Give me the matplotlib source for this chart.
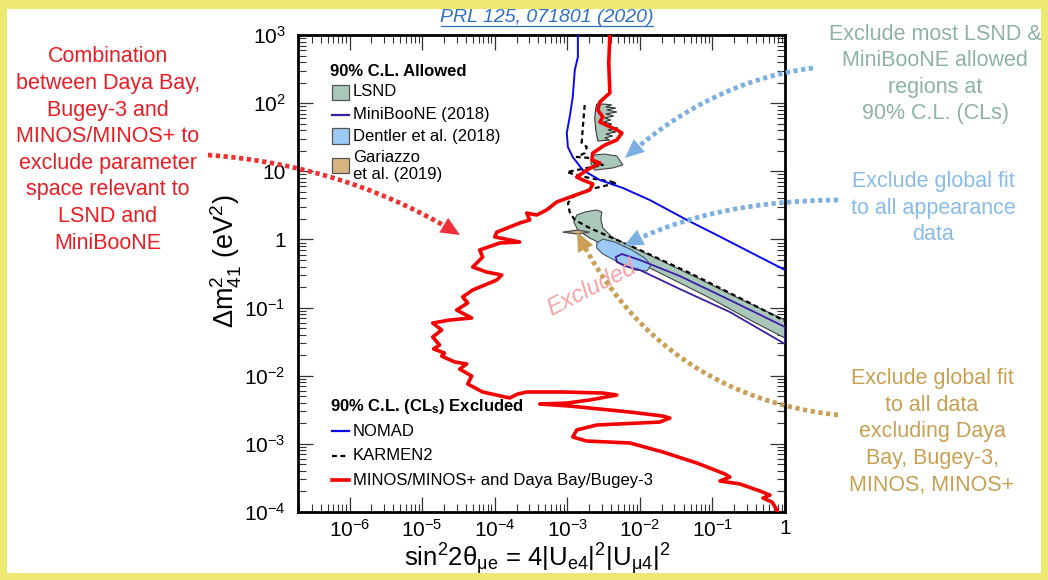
import numpy as np
import matplotlib
matplotlib.use("Agg")
import matplotlib.pyplot as plt
from matplotlib.patches import Rectangle, Polygon
from matplotlib.lines import Line2D
from matplotlib.ticker import FixedLocator, FixedFormatter, LogLocator, NullFormatter

plt.rcParams['font.family'] = ['Liberation Sans', 'DejaVu Sans']
plt.rcParams['mathtext.fontset'] = 'custom'
plt.rcParams['mathtext.rm'] = 'Liberation Sans'
plt.rcParams['mathtext.it'] = 'Liberation Sans:italic'
plt.rcParams['mathtext.bf'] = 'Liberation Sans:bold'
plt.rcParams['mathtext.sf'] = 'Liberation Sans'

# ---------------------------------------------------------------------------
# 90% CLs exclusion: MINOS/MINOS+ combined with Daya Bay/Bugey-3
minos_s2 = [3.86e-3, 3.73e-3, 3.86e-3, 2.81e-3, 2.64e-3, 3.09e-3, 2.81e-3, 4.82e-3,
            5.65e-3, 4.82e-3, 3.29e-3, 2.25e-3, 2.18e-3, 2.81e-3, 1.86e-3, 1.35e-3,
            1.64e-3, 2.25e-3, 2.04e-3, 1.19e-3, 7.16e-4, 5.21e-4, 3.79e-4, 2.76e-4,
            3.04e-4, 2.21e-4, 1.07e-4, 1.0e-4, 2.21e-4, 1.17e-4, 6.21e-5, 6.83e-5,
            4.97e-5, 7.76e-5, 1.25e-4, 1.07e-4, 4.97e-5, 3.62e-5, 4.25e-5, 2.99e-5,
            4.82e-5, 2.39e-5, 1.40e-5, 1.86e-5, 1.40e-5, 1.74e-5,
            1.44e-5, 2.04e-5, 1.86e-5, 2.81e-5, 4.11e-5, 3.29e-5, 4.82e-5, 4.25e-5,
            6.83e-5, 1.61e-4, 2.08e-4, 2.76e-4, 8.67e-4, 3.09e-3, 4.82e-3, 2.04e-3,
            9.85e-4, 4.18e-4, 1.08e-3, 7.28e-3, 2.08e-2, 2.59e-2, 1.89e-2, 2.55e-3,
            1.35e-3, 1.19e-3, 1.86e-3, 7.28e-3, 2.08e-2, 6.11e-2, 0.149, 0.174,
            0.127, 0.239, 0.452, 0.621, 0.497, 0.662, 0.776, 0.80]
minos_dm2 = [1000, 388, 141, 104, 79, 62.7, 52.9, 40.4,
             36.5, 28.8, 24.3, 18.5, 14.7, 13.2, 10.4, 8.24,
             7.45, 6.50, 5.31, 4.33, 3.54, 2.71, 2.28, 2.44,
             1.93, 1.74, 1.28, 1.09, 0.916, 0.885, 0.700, 0.552,
             0.394, 0.332, 0.301, 0.254, 0.181, 0.143, 0.117, 0.092,
             0.0703, 0.0657, 0.0593, 0.0469, 0.0370, 0.0282,
             0.0247, 0.0215, 0.0194, 0.0159, 0.0149, 0.0125, 0.0099, 0.00756,
             0.00577, 0.00471, 0.00539, 0.00577, 0.00577, 0.00557, 0.00521, 0.00440,
             0.00397, 0.00384, 0.00359, 0.00293, 0.00256, 0.00239, 0.00209, 0.00189,
             0.00160, 0.00126, 0.00110, 0.00103, 7.59e-4, 5.23e-4, 3.61e-4, 3.26e-4,
             2.85e-4, 2.58e-4, 2.03e-4, 1.77e-4, 1.60e-4, 1.40e-4, 1.07e-4, 8.9e-5]

# NOMAD exclusion
nomad_s2 = [1.40e-3, 1.40e-3, 1.27e-3, 1.19e-3, 1.08e-3, 9.85e-4, 1.02e-3, 1.19e-3,
            1.64e-3, 2.81e-3, 5.83e-3, 1.37e-2, 4.45e-2, 0.115, 0.329, 1.0]
nomad_dm2 = [1000, 475, 306, 123, 62.7, 36.5, 22.7, 16.2,
             10.4, 7.45, 5.69, 3.79, 1.93, 1.16, 0.653, 0.356]

# KARMEN2 exclusion
karmen_s2 = [1.74e-3, 1.64e-3, 1.58e-3, 1.86e-3, 1.74e-3, 1.35e-3, 2.04e-3, 2.39e-3,
             3.09e-3, 9.85e-4, 1.35e-3, 2.04e-3, 4.24e-3, 4.82e-3, 2.81e-3, 1.86e-3,
             1.19e-3, 1.02e-3, 1.08e-3, 1.27e-3, 2.04e-3, 3.86e-3, 1.0e-2, 4.90e-2,
             0.239, 1.0]
karmen_dm2 = [94.0, 44.7, 26.0, 22.7, 18.5, 16.2, 15.7, 13.2,
              12.4, 9.75, 8.81, 7.96, 6.96, 6.73, 5.88, 5.31,
              4.19, 3.42, 2.52, 1.93, 1.47, 1.09, 0.700, 0.321,
              0.138, 0.0635]

# LSND allowed regions (three islands)
lsnd_hi_s2 = [2.64e-3, 2.47e-3, 2.39e-3, 2.47e-3, 2.55e-3, 3.19e-3, 4.11e-3, 3.40e-3,
              4.67e-3, 3.51e-3, 4.82e-3, 3.40e-3, 4.38e-3, 3.29e-3, 3.98e-3, 3.19e-3,
              4.11e-3, 3.40e-3, 4.97e-3, 3.62e-3, 4.67e-3, 3.40e-3, 4.24e-3, 3.29e-3,
              3.86e-3]
lsnd_hi_dm2 = [27.8, 40.4, 60.5, 84.9, 97.0, 97.0, 94.0, 87.8,
               84.9, 79.3, 74.1, 69.3, 64.8, 60.5, 56.6, 52.9,
               49.4, 46.2, 43.2, 40.4, 37.7, 35.2, 33.0, 30.8,
               28.8]
lsnd_mid_s2 = [2.25e-3, 3.29e-3, 4.82e-3, 5.83e-3, 4.24e-3, 2.39e-3, 2.11e-3]
lsnd_mid_dm2 = [17.3, 17.9, 16.7, 12.4, 11.2, 10.4, 13.2]
lsnd_lo_s2 = [1.23e-3, 1.35e-3, 1.74e-3, 2.55e-3, 2.99e-3, 2.90e-3, 3.09e-3, 4.11e-3,
              7.28e-3, 1.89e-2, 6.72e-2, 0.239, 1.0, 1.0, 0.329, 0.0924,
              2.59e-2, 1.0e-2, 3.86e-3, 2.04e-3, 1.40e-3]
lsnd_lo_dm2 = [1.80, 2.28, 2.52, 2.71, 2.52, 2.00, 1.47, 1.09,
               0.800, 0.499, 0.262, 0.134, 0.0657, 0.0357, 0.0657, 0.138,
               0.272, 0.451, 0.748, 1.05, 1.37]

# Dentler et al. (2018) global appearance fit
dentler_s2 = [2.55e-3, 3.09e-3, 4.52e-3, 7.76e-3, 1.17e-2, 1.42e-2, 1.25e-2, 8.53e-3,
              4.97e-3, 3.09e-3, 2.55e-3]
dentler_dm2 = [0.885, 1.01, 0.916, 0.700, 0.533, 0.421, 0.344, 0.356,
               0.467, 0.611, 0.748]

# MiniBooNE (2018) allowed contour
mb_s2 = [4.67e-3, 5.65e-3, 1.0e-2, 3.56e-2, 0.174, 1.0, 1.0, 0.174, 3.56e-2, 1.0e-2,
         6.21e-3, 4.82e-3]
mb_dm2 = [0.552, 0.611, 0.499, 0.290, 0.129, 0.0519, 0.0292, 0.0861, 0.187, 0.356,
          0.407, 0.467]

# Gariazzo et al. (2019) global fit
gar_s2 = [8.67e-4, 1.40e-3, 2.04e-3, 1.40e-3]
gar_dm2 = [1.28, 1.37, 1.28, 1.20]

x_ticks = [1e-6, 1e-5, 1e-4, 1e-3, 1e-2, 1e-1, 1]
x_ticklabels = [r'$10^{-6}$', r'$10^{-5}$', r'$10^{-4}$', r'$10^{-3}$',
                r'$10^{-2}$', r'$10^{-1}$', '1']
y_ticks = [1e-4, 1e-3, 1e-2, 1e-1, 1, 10, 100, 1000]
y_ticklabels = [r'$10^{-4}$', r'$10^{-3}$', r'$10^{-2}$', r'$10^{-1}$', '1', '10',
                r'$10^{2}$', r'$10^{3}$']

# colours
C_RED = '#f40000'
C_NOMAD = '#0a0af0'
C_MB = '#3c1ea6'
C_LSND = '#a9c8ba'
C_DENT = '#9ccaf6'
C_GAR = '#d9b483'

# ---------------------------------------------------------------------------
W, H = 1048, 580
fig = plt.figure(figsize=(W / 100, H / 100), dpi=100)
fig.patch.set_facecolor('#ede872')


def fp(px, py):
    """pixel position on the canvas -> figure fraction"""
    return np.asarray(px, float) / W, 1 - np.asarray(py, float) / H


x0, y0 = fp(7, 573)
x1, y1 = fp(1041, 9)
fig.add_artist(Rectangle((x0, y0), x1 - x0, y1 - y0, transform=fig.transFigure,
                         facecolor='white', edgecolor='none', zorder=-5))

AX_L, AX_R, AX_T, AX_B = 298, 785, 35, 512
ax = fig.add_axes([AX_L / W, 1 - AX_B / H, (AX_R - AX_L) / W, (AX_B - AX_T) / H])
ax.set_xscale('log')
ax.set_yscale('log')
ax.set_xlim(1.95e-7, 1)
ax.set_ylim(1e-4, 1e3)

# allowed regions
ax.fill(lsnd_hi_s2, lsnd_hi_dm2, facecolor=C_LSND, edgecolor='#333333', lw=0.8, zorder=2)
ax.fill(lsnd_mid_s2, lsnd_mid_dm2, facecolor=C_LSND, edgecolor='#444444', lw=0.8, zorder=2)
ax.fill(lsnd_lo_s2, lsnd_lo_dm2, facecolor=C_LSND, edgecolor='#444444', lw=0.8, zorder=2)
ax.fill(dentler_s2, dentler_dm2, facecolor=C_DENT, edgecolor='#445566', lw=0.8, zorder=3)
ax.fill(mb_s2, mb_dm2, facecolor='none', edgecolor=C_MB, lw=1.3, zorder=3.5)
ax.fill(gar_s2, gar_dm2, facecolor=C_GAR, edgecolor='#555555', lw=1.0, zorder=3.6)

# exclusion curves
ax.plot(karmen_s2, karmen_dm2, color='black', lw=1.6, linestyle=(0, (2.2, 1.6)), zorder=4)
ax.plot(nomad_s2, nomad_dm2, color=C_NOMAD, lw=1.4, zorder=4.5)
ax.plot(minos_s2, minos_dm2, color=C_RED, lw=2.6, solid_joinstyle='round', zorder=5)

ax.text(2.2e-3, 0.19, 'Excluded', color='#f5a3a3', fontsize=17, style='italic',
        rotation=27, rotation_mode='anchor', ha='center', va='center', zorder=6)

# axes styling
for s in ax.spines.values():
    s.set_linewidth(2.0)
ax.xaxis.set_major_locator(FixedLocator(x_ticks))
ax.xaxis.set_major_formatter(FixedFormatter(x_ticklabels))
ax.yaxis.set_major_locator(FixedLocator(y_ticks))
ax.yaxis.set_major_formatter(FixedFormatter(y_ticklabels))
ax.xaxis.set_minor_locator(LogLocator(base=10, subs=np.arange(2, 10), numticks=30))
ax.yaxis.set_minor_locator(LogLocator(base=10, subs=np.arange(2, 10), numticks=30))
ax.xaxis.set_minor_formatter(NullFormatter())
ax.yaxis.set_minor_formatter(NullFormatter())
ax.tick_params(which='both', direction='in', top=True, right=True, color='#333333')
ax.tick_params(which='major', length=11, width=0.9, labelsize=15)
ax.tick_params(which='minor', length=5.5, width=0.8)
ax.tick_params(axis='x', which='major', pad=5)
ax.tick_params(axis='y', which='major', pad=9)

ax.set_xlabel(r'sin$^2$2θ$_{\mathrm{μe}}$ = 4|U$_{\mathrm{e4}}$|$^2$|U$_{\mathrm{μ4}}$|$^2$',
              fontsize=18.5)
ax.xaxis.set_label_coords(0.49, -0.062)
ax.set_ylabel(r'Δm$^2_{41}$ (eV$^2$)', fontsize=19.5)
ax.yaxis.set_label_coords(-0.111, 0.525)


# legends drawn in axes fraction
def ap(px, py):
    return (px - AX_L) / (AX_R - AX_L), (AX_B - py) / (AX_B - AX_T)


LEG_FS = 12
ax.text(*ap(330, 71), '90% C.L. Allowed', fontsize=LEG_FS, fontweight='bold',
        transform=ax.transAxes, va='center', ha='left', zorder=8)


def leg_box(ytop, ybot, face):
    (bx0, by0), (bx1, by1) = ap(332, ybot), ap(349, ytop)
    ax.add_patch(Rectangle((bx0, by0), bx1 - bx0, by1 - by0, transform=ax.transAxes,
                           facecolor=face, edgecolor='#555555', lw=0.9, zorder=8))


def leg_line(yc, color, lw, ls='-'):
    (lx0, ly0), (lx1, _) = ap(332, yc), ap(349, yc)
    ax.add_line(Line2D([lx0, lx1], [ly0, ly0], transform=ax.transAxes, color=color,
                       lw=lw, linestyle=ls, zorder=8))


def leg_text(yc, s):
    ax.text(*ap(353, yc), s, fontsize=LEG_FS, transform=ax.transAxes,
            va='center', ha='left', zorder=8)


leg_box(85, 100, C_LSND)
leg_text(92, 'LSND')
leg_line(115, C_MB, 1.6)
leg_text(115, 'MiniBooNE (2018)')
leg_box(128, 144, C_DENT)
leg_text(136, 'Dentler et al. (2018)')
leg_box(158, 173, C_GAR)
leg_text(166, 'Gariazzo\net al. (2019)')

ax.text(*ap(330, 406), r'90% C.L. (CL$_{\mathbf{s}}$) Excluded', fontsize=LEG_FS,
        fontweight='bold', transform=ax.transAxes, va='center', ha='left', zorder=8)
leg_line(431, C_NOMAD, 1.6)
leg_text(431, 'NOMAD')
leg_line(456, 'black', 1.6, (0, (2.2, 1.6)))
leg_text(456, 'KARMEN2')
leg_line(480, C_RED, 2.6)
leg_text(480, 'MINOS/MINOS+ and Daya Bay/Bugey-3')

# ---------------------------------------------------------------------------
# side notes with dotted arrows


def bezier(pts, n=300):
    p = np.asarray(pts, float)
    t = np.linspace(0, 1, n)[:, None]
    if len(p) == 3:
        return (1 - t) ** 2 * p[0] + 2 * (1 - t) * t * p[1] + t ** 2 * p[2]
    return ((1 - t) ** 3 * p[0] + 3 * (1 - t) ** 2 * t * p[1]
            + 3 * (1 - t) * t ** 2 * p[2] + t ** 3 * p[3])


def dotted_arrow(pts, color, head_color, head_len=19, head_w=17, lw=3.4):
    curve = bezier(pts)
    tip = curve[-1]
    dist = np.hypot(*(curve - tip).T)
    keep = np.argmax(dist < head_len * 0.9)
    body = curve[:keep]
    d = curve[-1] - curve[-12]
    d = d / np.hypot(*d)
    nrm = np.array([-d[1], d[0]])
    base = tip - head_len * d
    head = np.array([tip, base + nrm * head_w / 2, base - nrm * head_w / 2])
    bx, by = fp(body[:, 0], body[:, 1])
    fig.add_artist(Line2D(bx, by, transform=fig.transFigure, color=color, lw=lw,
                          linestyle=(0, (0.9, 0.75)), dash_capstyle='butt', zorder=10))
    hx, hy = fp(head[:, 0], head[:, 1])
    fig.add_artist(Polygon(np.column_stack([hx, hy]), closed=True,
                           transform=fig.transFigure, facecolor=head_color,
                           edgecolor='none', zorder=10))


dotted_arrow([(208, 155), (346, 165), (460, 235)], '#f03030', '#f0303c')
dotted_arrow([(813, 68), (711, 81), (625, 158)], '#7cb0e3', '#7cb0e3')
dotted_arrow([(838, 200), (709, 201), (624, 246)], '#7cb0e3', '#7cb0e3')
dotted_arrow([(838, 415), (700, 400), (620, 320), (577, 232)], '#c9a055', '#c9a055')

NOTE_FS = 15.5
fig.text(*fp(108, 150), 'Combination\nbetween Daya Bay,\nBugey-3 and\nMINOS/MINOS+ to\n'
         'exclude parameter\nspace relevant to\nLSND and\nMiniBooNE',
         color='#ec1c24', fontsize=NOTE_FS, ha='center', va='center',
         multialignment='center', linespacing=1.35)
fig.text(*fp(935, 74), 'Exclude most LSND &\nMiniBooNE allowed\nregions at\n90% C.L. (CLs)',
         color='#8fb1a7', fontsize=NOTE_FS, ha='center', va='center',
         multialignment='center', linespacing=1.35)
fig.text(*fp(933, 208), 'Exclude global fit\nto all appearance\ndata',
         color='#89bbe9', fontsize=NOTE_FS, ha='center', va='center',
         multialignment='center', linespacing=1.35)
fig.text(*fp(932, 432), 'Exclude global fit\nto all data\nexcluding Daya\nBay, Bugey-3,\nMINOS, MINOS+',
         color='#c8a052', fontsize=NOTE_FS, ha='center', va='center',
         multialignment='center', linespacing=1.35)

# reference line at the top
fig.text(*fp(547, 17), 'PRL 125, 071801 (2020)', color='#2e6fc4', fontsize=14,
         style='italic', ha='center', va='center')
ux, uy = fp([441, 653], [26, 26])
fig.add_artist(Line2D(ux, uy, transform=fig.transFigure, color='#2e6fc4', lw=0.9))

fig.savefig('out.png', dpi=100, facecolor=fig.get_facecolor())
